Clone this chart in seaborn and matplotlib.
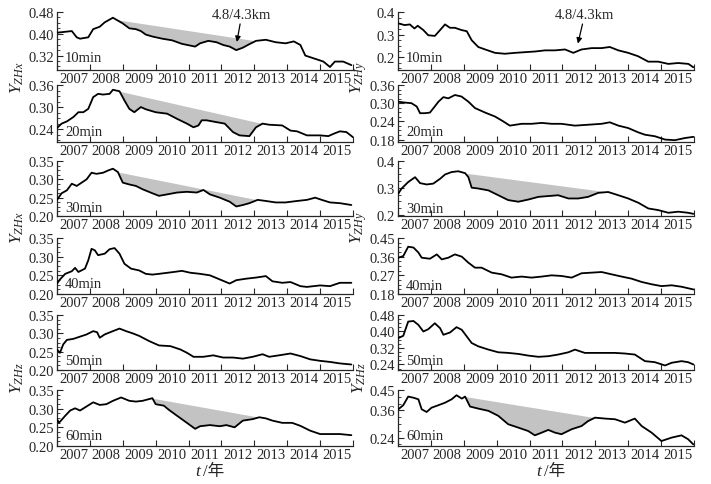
import numpy as np
import matplotlib
matplotlib.use('Agg')
import matplotlib.pyplot as plt
import seaborn as sns
from matplotlib.ticker import FixedLocator, NullFormatter, FixedFormatter, AutoMinorLocator

# ---------------- data ----------------
years = list(range(2007, 2016))
year_labels = [str(y) for y in years]

l10_t = [2007.0, 2007.3, 2007.45, 2007.6, 2007.7, 2007.95, 2008.1, 2008.3, 2008.45, 2008.7, 2008.8, 2009.0, 2009.2, 2009.4, 2009.55, 2009.7, 2009.9, 2010.2, 2010.5, 2010.8, 2011.2, 2011.35, 2011.6, 2011.85, 2012.05, 2012.25, 2012.45, 2012.65, 2012.85, 2013.05, 2013.35, 2013.65, 2013.95, 2014.2, 2014.4, 2014.55, 2014.8, 2015.1, 2015.3, 2015.45, 2015.7, 2015.95]
l10_v = [0.404, 0.408, 0.41, 0.387, 0.382, 0.387, 0.417, 0.426, 0.442, 0.459, 0.452, 0.438, 0.42, 0.417, 0.41, 0.397, 0.39, 0.382, 0.376, 0.363, 0.353, 0.365, 0.374, 0.369, 0.359, 0.353, 0.34, 0.349, 0.362, 0.374, 0.378, 0.369, 0.365, 0.372, 0.359, 0.32, 0.31, 0.298, 0.278, 0.298, 0.298, 0.285]

l20_t = [2007.0, 2007.14, 2007.3, 2007.5, 2007.65, 2007.8, 2007.95, 2008.1, 2008.25, 2008.4, 2008.6, 2008.7, 2008.9, 2009.05, 2009.2, 2009.35, 2009.55, 2009.7, 2010.0, 2010.35, 2010.65, 2010.95, 2011.15, 2011.3, 2011.4, 2011.55, 2011.85, 2012.1, 2012.35, 2012.55, 2012.85, 2013.05, 2013.25, 2013.45, 2013.85, 2014.1, 2014.3, 2014.6, 2015.0, 2015.25, 2015.4, 2015.6, 2015.8, 2016.0]
l20_v = [0.243, 0.255, 0.261, 0.273, 0.286, 0.286, 0.295, 0.327, 0.336, 0.334, 0.336, 0.347, 0.343, 0.318, 0.295, 0.286, 0.30, 0.294, 0.286, 0.282, 0.268, 0.255, 0.245, 0.25, 0.264, 0.264, 0.259, 0.255, 0.232, 0.223, 0.221, 0.245, 0.255, 0.252, 0.25, 0.236, 0.234, 0.223, 0.223, 0.221, 0.227, 0.234, 0.232, 0.218]

l30_t = [2007.0, 2007.14, 2007.3, 2007.45, 2007.6, 2007.75, 2007.9, 2008.05, 2008.2, 2008.4, 2008.55, 2008.7, 2008.85, 2009.0, 2009.2, 2009.4, 2009.6, 2009.9, 2010.1, 2010.35, 2010.65, 2010.95, 2011.25, 2011.45, 2011.65, 2011.95, 2012.25, 2012.45, 2012.65, 2012.85, 2013.1, 2013.35, 2013.65, 2013.95, 2014.3, 2014.6, 2014.85, 2015.05, 2015.3, 2015.6, 2015.95]
l30_v = [0.244, 0.262, 0.27, 0.288, 0.282, 0.291, 0.30, 0.318, 0.315, 0.318, 0.324, 0.329, 0.32, 0.291, 0.286, 0.282, 0.273, 0.262, 0.255, 0.259, 0.264, 0.266, 0.264, 0.271, 0.259, 0.25, 0.239, 0.226, 0.23, 0.235, 0.244, 0.241, 0.237, 0.237, 0.241, 0.244, 0.25, 0.244, 0.237, 0.235, 0.23]

l40_t = [2007.0, 2007.09, 2007.25, 2007.45, 2007.55, 2007.65, 2007.85, 2007.95, 2008.05, 2008.15, 2008.25, 2008.45, 2008.6, 2008.75, 2008.9, 2009.05, 2009.25, 2009.5, 2009.7, 2009.9, 2010.1, 2010.55, 2010.8, 2011.05, 2011.35, 2011.65, 2011.95, 2012.25, 2012.45, 2012.75, 2013.05, 2013.35, 2013.55, 2013.85, 2014.1, 2014.4, 2014.6, 2015.0, 2015.3, 2015.6, 2015.95]
l40_v = [0.228, 0.239, 0.254, 0.261, 0.27, 0.259, 0.268, 0.29, 0.321, 0.317, 0.304, 0.308, 0.32, 0.323, 0.308, 0.281, 0.268, 0.263, 0.254, 0.252, 0.254, 0.259, 0.262, 0.257, 0.254, 0.25, 0.239, 0.228, 0.237, 0.241, 0.244, 0.248, 0.234, 0.23, 0.232, 0.221, 0.219, 0.223, 0.221, 0.23, 0.23]

l50_t = [2007.0, 2007.09, 2007.19, 2007.3, 2007.5, 2007.7, 2007.9, 2008.1, 2008.22, 2008.3, 2008.45, 2008.7, 2008.9, 2009.1, 2009.3, 2009.5, 2009.8, 2010.1, 2010.45, 2010.75, 2010.95, 2011.15, 2011.45, 2011.75, 2012.05, 2012.35, 2012.65, 2012.95, 2013.25, 2013.45, 2013.75, 2014.1, 2014.4, 2014.7, 2015.0, 2015.3, 2015.6, 2015.95]
l50_v = [0.256, 0.247, 0.27, 0.282, 0.285, 0.291, 0.297, 0.306, 0.303, 0.288, 0.297, 0.306, 0.313, 0.306, 0.30, 0.293, 0.279, 0.267, 0.265, 0.256, 0.247, 0.236, 0.236, 0.24, 0.234, 0.234, 0.231, 0.236, 0.243, 0.236, 0.24, 0.245, 0.238, 0.229, 0.225, 0.222, 0.218, 0.215]

l60_t = [2007.0, 2007.06, 2007.25, 2007.4, 2007.55, 2007.7, 2007.9, 2008.1, 2008.3, 2008.5, 2008.7, 2008.95, 2009.2, 2009.4, 2009.6, 2009.9, 2010.0, 2010.25, 2010.4, 2010.65, 2010.95, 2011.2, 2011.35, 2011.65, 2011.95, 2012.15, 2012.4, 2012.65, 2012.95, 2013.15, 2013.35, 2013.55, 2013.85, 2014.15, 2014.4, 2014.7, 2015.0, 2015.3, 2015.6, 2015.95]
l60_v = [0.272, 0.262, 0.281, 0.295, 0.301, 0.295, 0.306, 0.317, 0.31, 0.312, 0.321, 0.33, 0.321, 0.319, 0.321, 0.328, 0.312, 0.308, 0.297, 0.281, 0.262, 0.246, 0.253, 0.256, 0.253, 0.256, 0.25, 0.268, 0.272, 0.277, 0.274, 0.268, 0.262, 0.262, 0.254, 0.241, 0.232, 0.232, 0.232, 0.229]

r10_t = [2007.0, 2007.2, 2007.36, 2007.5, 2007.6, 2007.77, 2007.92, 2008.12, 2008.28, 2008.43, 2008.58, 2008.73, 2008.93, 2009.09, 2009.24, 2009.44, 2009.65, 2009.95, 2010.25, 2010.56, 2010.86, 2011.17, 2011.47, 2011.77, 2012.08, 2012.33, 2012.58, 2012.89, 2013.19, 2013.44, 2013.7, 2014.0, 2014.3, 2014.61, 2014.91, 2015.22, 2015.52, 2015.83, 2015.98]
r10_v = [0.35, 0.342, 0.345, 0.327, 0.339, 0.32, 0.297, 0.294, 0.32, 0.345, 0.33, 0.33, 0.32, 0.315, 0.275, 0.245, 0.234, 0.219, 0.215, 0.219, 0.222, 0.225, 0.23, 0.23, 0.234, 0.219, 0.234, 0.24, 0.24, 0.245, 0.23, 0.219, 0.204, 0.18, 0.18, 0.17, 0.174, 0.17, 0.155]

r20_t = [2007.0, 2007.21, 2007.41, 2007.57, 2007.67, 2007.82, 2007.97, 2008.08, 2008.23, 2008.38, 2008.53, 2008.73, 2008.93, 2009.14, 2009.34, 2009.65, 2009.95, 2010.2, 2010.4, 2010.76, 2011.06, 2011.37, 2011.67, 2011.97, 2012.38, 2012.79, 2013.19, 2013.44, 2013.7, 2014.0, 2014.3, 2014.51, 2014.81, 2015.12, 2015.42, 2015.72, 2015.98]
r20_v = [0.305, 0.302, 0.30, 0.289, 0.267, 0.267, 0.269, 0.284, 0.305, 0.32, 0.316, 0.327, 0.322, 0.305, 0.284, 0.269, 0.256, 0.24, 0.226, 0.232, 0.232, 0.235, 0.232, 0.232, 0.226, 0.229, 0.232, 0.237, 0.226, 0.218, 0.204, 0.196, 0.191, 0.18, 0.178, 0.185, 0.189]

r30_t = [2007.01, 2007.11, 2007.31, 2007.52, 2007.67, 2007.87, 2008.07, 2008.28, 2008.43, 2008.63, 2008.83, 2009.04, 2009.14, 2009.24, 2009.44, 2009.75, 2010.05, 2010.35, 2010.66, 2010.96, 2011.27, 2011.57, 2011.87, 2012.18, 2012.48, 2012.78, 2013.09, 2013.39, 2013.7, 2014.0, 2014.31, 2014.61, 2014.91, 2015.22, 2015.52, 2015.82, 2015.98]
r30_v = [0.279, 0.298, 0.322, 0.34, 0.318, 0.313, 0.316, 0.334, 0.35, 0.359, 0.362, 0.355, 0.34, 0.301, 0.298, 0.291, 0.273, 0.255, 0.249, 0.257, 0.267, 0.27, 0.273, 0.261, 0.261, 0.267, 0.282, 0.285, 0.273, 0.261, 0.245, 0.224, 0.218, 0.208, 0.212, 0.208, 0.204]

r40_t = [2007.01, 2007.16, 2007.31, 2007.47, 2007.62, 2007.72, 2007.97, 2008.18, 2008.33, 2008.53, 2008.73, 2008.94, 2009.14, 2009.34, 2009.54, 2009.85, 2010.15, 2010.45, 2010.76, 2011.06, 2011.37, 2011.67, 2011.97, 2012.28, 2012.58, 2012.89, 2013.19, 2013.49, 2013.8, 2014.1, 2014.41, 2014.71, 2015.01, 2015.32, 2015.62, 2015.98]
r40_v = [0.355, 0.363, 0.408, 0.404, 0.38, 0.355, 0.35, 0.371, 0.347, 0.355, 0.371, 0.36, 0.331, 0.307, 0.307, 0.283, 0.275, 0.259, 0.264, 0.259, 0.264, 0.27, 0.267, 0.259, 0.28, 0.283, 0.286, 0.275, 0.264, 0.254, 0.238, 0.227, 0.218, 0.222, 0.215, 0.202]

r50_t = [2007.01, 2007.16, 2007.31, 2007.47, 2007.62, 2007.77, 2007.92, 2008.12, 2008.28, 2008.38, 2008.58, 2008.78, 2008.94, 2009.09, 2009.24, 2009.44, 2009.75, 2010.05, 2010.35, 2010.66, 2010.96, 2011.27, 2011.57, 2011.87, 2012.18, 2012.38, 2012.68, 2012.99, 2013.29, 2013.6, 2013.9, 2014.2, 2014.51, 2014.81, 2015.12, 2015.32, 2015.62, 2015.82, 2015.98]
r50_v = [0.368, 0.379, 0.448, 0.451, 0.432, 0.40, 0.411, 0.44, 0.416, 0.384, 0.395, 0.421, 0.408, 0.376, 0.344, 0.328, 0.312, 0.299, 0.296, 0.291, 0.283, 0.277, 0.28, 0.288, 0.299, 0.312, 0.296, 0.296, 0.296, 0.296, 0.293, 0.288, 0.256, 0.251, 0.235, 0.248, 0.256, 0.251, 0.24]

r60_t = [2007.01, 2007.16, 2007.31, 2007.47, 2007.62, 2007.72, 2007.87, 2008.02, 2008.23, 2008.43, 2008.63, 2008.78, 2008.94, 2009.04, 2009.19, 2009.44, 2009.75, 2010.05, 2010.35, 2010.66, 2010.96, 2011.16, 2011.37, 2011.57, 2011.77, 2011.97, 2012.28, 2012.58, 2012.78, 2012.99, 2013.29, 2013.6, 2013.9, 2014.2, 2014.41, 2014.71, 2015.01, 2015.32, 2015.62, 2015.82, 2015.98]
r60_v = [0.365, 0.383, 0.421, 0.416, 0.409, 0.365, 0.353, 0.372, 0.383, 0.394, 0.409, 0.427, 0.412, 0.421, 0.377, 0.368, 0.358, 0.336, 0.299, 0.284, 0.269, 0.25, 0.262, 0.274, 0.262, 0.255, 0.277, 0.291, 0.313, 0.328, 0.324, 0.321, 0.306, 0.324, 0.291, 0.262, 0.225, 0.24, 0.25, 0.233, 0.21]

# anomaly (shaded) spans: start / end years of the straight reference line
shade_l10 = (2008.8, 2013.05)
shade_l20 = (2008.9, 2013.25)
shade_l30 = (2008.85, 2013.1)
shade_l60 = (2009.9, 2013.15)
shade_r30 = (2009.04, 2013.39)
shade_r60 = (2009.04, 2012.99)

quake_year = 2012.47
quake_label = '4.8/4.3km'

# ---------------- style ----------------
sns.set_style('ticks')
plt.rcParams['font.family'] = ['Liberation Serif', 'Noto Sans CJK SC']
plt.rcParams['mathtext.fontset'] = 'custom'
plt.rcParams['mathtext.it'] = 'Liberation Serif:italic'
plt.rcParams['mathtext.rm'] = 'Liberation Serif'
plt.rcParams['axes.linewidth'] = 0.9

W, H = 711, 485
fig = plt.figure(figsize=(W / 100, H / 100), dpi=100)

rows_px = [(13, 71), (86, 143), (162, 217), (239, 295), (316, 371), (391, 447)]
cols_px = [(57, 353), (398, 694)]

panels = [
    # col, row, t, v, ylim, yticks, fmt, label, label_y, shade
    (0, 0, l10_t, l10_v, (0.267, 0.48), [0.32, 0.40, 0.48], '%.2f', '10min', 0.22, shade_l10),
    (0, 1, l20_t, l20_v, (0.205, 0.36), [0.24, 0.30, 0.36], '%.2f', '20min', 0.19, shade_l20),
    (0, 2, l30_t, l30_v, (0.20, 0.35), [0.20, 0.25, 0.30, 0.35], '%.2f', '30min', 0.16, shade_l30),
    (0, 3, l40_t, l40_v, (0.20, 0.35), [0.20, 0.25, 0.30, 0.35], '%.2f', '40min', 0.18, None),
    (0, 4, l50_t, l50_v, (0.20, 0.35), [0.20, 0.25, 0.30, 0.35], '%.2f', '50min', 0.18, None),
    (0, 5, l60_t, l60_v, (0.20, 0.35), [0.20, 0.25, 0.30, 0.35], '%.2f', '60min', 0.18, shade_l60),
    (1, 0, r10_t, r10_v, (0.143, 0.40), [0.2, 0.3, 0.4], '%.1f', '10min', 0.22, None),
    (1, 1, r20_t, r20_v, (0.172, 0.36), [0.18, 0.24, 0.30, 0.36], '%.2f', '20min', 0.19, None),
    (1, 2, r30_t, r30_v, (0.196, 0.40), [0.2, 0.3, 0.4], '%.1f', '30min', 0.14, shade_r30),
    (1, 3, r40_t, r40_v, (0.18, 0.45), [0.18, 0.27, 0.36, 0.45], '%.2f', '40min', 0.16, None),
    (1, 4, r50_t, r50_v, (0.213, 0.48), [0.24, 0.32, 0.40, 0.48], '%.2f', '50min', 0.18, None),
    (1, 5, r60_t, r60_v, (0.203, 0.45), [0.24, 0.36, 0.45], '%.2f', '60min', 0.18, shade_r60),
]

axes = {}
for col, row, t, v, ylim, yt, fmt, lab, laby, shade in panels:
    x0, x1 = cols_px[col]
    y0, y1 = rows_px[row]
    ax = fig.add_axes([x0 / W, 1 - y1 / H, (x1 - x0) / W, (y1 - y0) / H])
    axes[(col, row)] = ax
    t = np.asarray(t)
    v = np.asarray(v)
    if shade is not None:
        s0, s1 = shade
        a = np.interp(s0, t, v)
        b = np.interp(s1, t, v)
        m = (t > s0) & (t < s1)
        ts = np.concatenate([[s0], t[m], [s1]])
        vs = np.concatenate([[a], v[m], [b]])
        ref = a + (ts - s0) * (b - a) / (s1 - s0)
        ax.fill_between(ts, ref, vs, where=ref >= vs, interpolate=True,
                        color='#c3c3c3', linewidth=0, zorder=1)
    sns.lineplot(x=t, y=v, ax=ax, color='black', linewidth=1.3, zorder=3,
                 sort=False, estimator=None)
    ax.set_xlim(2007, 2016)
    ax.set_ylim(*ylim)
    ax.xaxis.set_major_locator(FixedLocator(list(range(2007, 2017))))
    ax.xaxis.set_major_formatter(NullFormatter())
    ax.xaxis.set_minor_locator(FixedLocator([y + 0.5 for y in years]))
    ax.xaxis.set_minor_formatter(FixedFormatter(year_labels))
    ax.tick_params(axis='x', which='major', direction='in', length=4, width=0.8)
    ax.tick_params(axis='x', which='minor', direction='in', length=0,
                   labelsize=10.5, pad=1.5)
    ax.yaxis.set_major_locator(FixedLocator(yt))
    ax.yaxis.set_major_formatter(FixedFormatter([fmt % y for y in yt]))
    ax.yaxis.set_minor_locator(AutoMinorLocator(4))
    ax.tick_params(axis='y', which='major', direction='in', length=4, width=0.8,
                   labelsize=10.5, pad=2)
    ax.tick_params(axis='y', which='minor', direction='in', length=2, width=0.6)
    ax.set_xlabel('')
    ax.set_ylabel('')
    sns.despine(ax=ax)
    ax.text(0.027, laby, lab, transform=ax.transAxes, fontsize=10.5,
            va='center', ha='left', zorder=4)

# earthquake arrows
axes[(0, 0)].annotate(quake_label, xy=(quake_year, 0.37), xytext=(2012.62, 0.472),
                      ha='center', va='center', fontsize=10.5,
                      arrowprops=dict(arrowstyle='-|>', color='black', lw=0.9,
                                      mutation_scale=8, shrinkA=0, shrinkB=0))
axes[(1, 0)].annotate(quake_label, xy=(quake_year, 0.26), xytext=(2012.68, 0.39),
                      ha='center', va='center', fontsize=10.5,
                      arrowprops=dict(arrowstyle='-|>', color='black', lw=0.9,
                                      mutation_scale=8, shrinkA=0, shrinkB=0))

# y labels
for xpx, names in [(17, ['ZHx', 'ZHx', 'ZHz']), (359, ['ZHy', 'ZHy', 'ZHz'])]:
    for ypx, nm in zip([78, 228, 378], names):
        fig.text(xpx / W, 1 - ypx / H, r'$Y_{%s}$' % nm, rotation=90,
                 ha='center', va='center', fontsize=12.5)

# x labels
for cx in [202, 543]:
    fig.text(cx / W, 1 - 472 / H, r'$t$', ha='right', va='center', fontsize=12.5)
    fig.text((cx + 1) / W, 1 - 472 / H, '/年', ha='left', va='center', fontsize=12,
             family=['Liberation Serif', 'Noto Sans CJK SC'])

fig.savefig('out.png', dpi=100)
